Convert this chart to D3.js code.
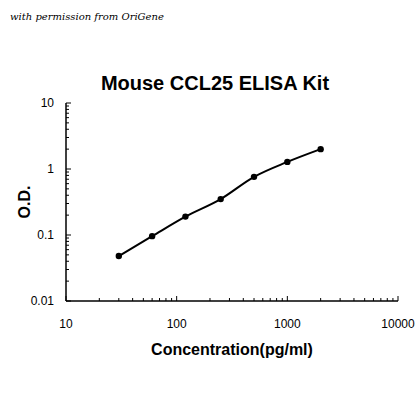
<!DOCTYPE html>
<html><head><meta charset="utf-8">
<script src="https://cdn.jsdelivr.net/npm/d3@7"></script>
<style>body{margin:0;background:#fff}</style>
</head><body><div id="chart"></div>
<script>
var conc = [30, 60, 120, 250, 500, 1000, 2000];
var od = [0.048, 0.096, 0.19, 0.35, 0.76, 1.28, 2.0];
var xTicks = [10, 100, 1000, 10000];
var yTicks = [0.01, 0.1, 1, 10];

var svg = d3.select('#chart').append('svg').attr('width', 420).attr('height', 420);

var x = d3.scaleLog().domain([10, 10000]).range([66, 398]);
var y = d3.scaleLog().domain([0.01, 10]).range([301, 103]);

svg.append('text').attr('x', 10).attr('y', 20)
  .style('font', 'italic 10px "DejaVu Serif", serif').text('with permission from OriGene');
svg.append('text').attr('x', 215).attr('y', 90).attr('text-anchor', 'middle')
  .style('font', 'bold 20px "Liberation Sans", Arial, sans-serif').text('Mouse CCL25 ELISA Kit');

// minor ticks (inward)
var minorX = [], minorY = [];
[10, 100, 1000].forEach(function(d) { for (var k = 2; k < 10; k++) minorX.push(d * k); });
[0.01, 0.1, 1].forEach(function(d) { for (var k = 2; k < 10; k++) minorY.push(d * k); });

var g = svg.append('g').attr('stroke', '#000');
g.selectAll('.mx').data(minorX).enter().append('line')
  .attr('x1', x).attr('x2', x).attr('y1', 301).attr('y2', 298);
g.selectAll('.Mx').data(xTicks).enter().append('line')
  .attr('x1', x).attr('x2', x).attr('y1', 301).attr('y2', 296);
g.selectAll('.my').data(minorY).enter().append('line')
  .attr('y1', y).attr('y2', y).attr('x1', 66).attr('x2', 69);
g.selectAll('.My').data(yTicks).enter().append('line')
  .attr('y1', y).attr('y2', y).attr('x1', 66).attr('x2', 71);
g.append('line').attr('x1', 66).attr('x2', 398).attr('y1', 301).attr('y2', 301).attr('stroke-width', 1.5);
g.append('line').attr('x1', 66).attr('x2', 66).attr('y1', 103).attr('y2', 301).attr('stroke-width', 1.5);

svg.selectAll('.xl').data(xTicks).enter().append('text')
  .attr('x', x).attr('y', 328).attr('text-anchor', 'middle')
  .style('font', '12px "Liberation Sans", Arial, sans-serif').text(function(d) { return d; });
svg.selectAll('.yl').data(yTicks).enter().append('text')
  .attr('x', 54).attr('y', function(d) { return y(d) + 4; }).attr('text-anchor', 'end')
  .style('font', '12px "Liberation Sans", Arial, sans-serif').text(function(d) { return d; });

svg.append('text').attr('x', 232).attr('y', 355).attr('text-anchor', 'middle')
  .style('font', 'bold 16px "Liberation Sans", Arial, sans-serif').text('Concentration(pg/ml)');
svg.append('text').attr('transform', 'translate(30,202)rotate(-90)').attr('text-anchor', 'middle')
  .style('font', 'bold 16px "Liberation Sans", Arial, sans-serif').text('O.D.');

var pts = conc.map(function(c, i) { return [c, od[i]]; });
svg.append('path').datum(pts)
  .attr('d', d3.line().x(function(d) { return x(d[0]); }).y(function(d) { return y(d[1]); }).curve(d3.curveMonotoneX))
  .attr('fill', 'none').attr('stroke', '#000').attr('stroke-width', 2);
svg.selectAll('.pt').data(pts).enter().append('circle')
  .attr('cx', function(d) { return x(d[0]); }).attr('cy', function(d) { return y(d[1]); })
  .attr('r', 3.2).attr('fill', '#000');
</script></body></html>
